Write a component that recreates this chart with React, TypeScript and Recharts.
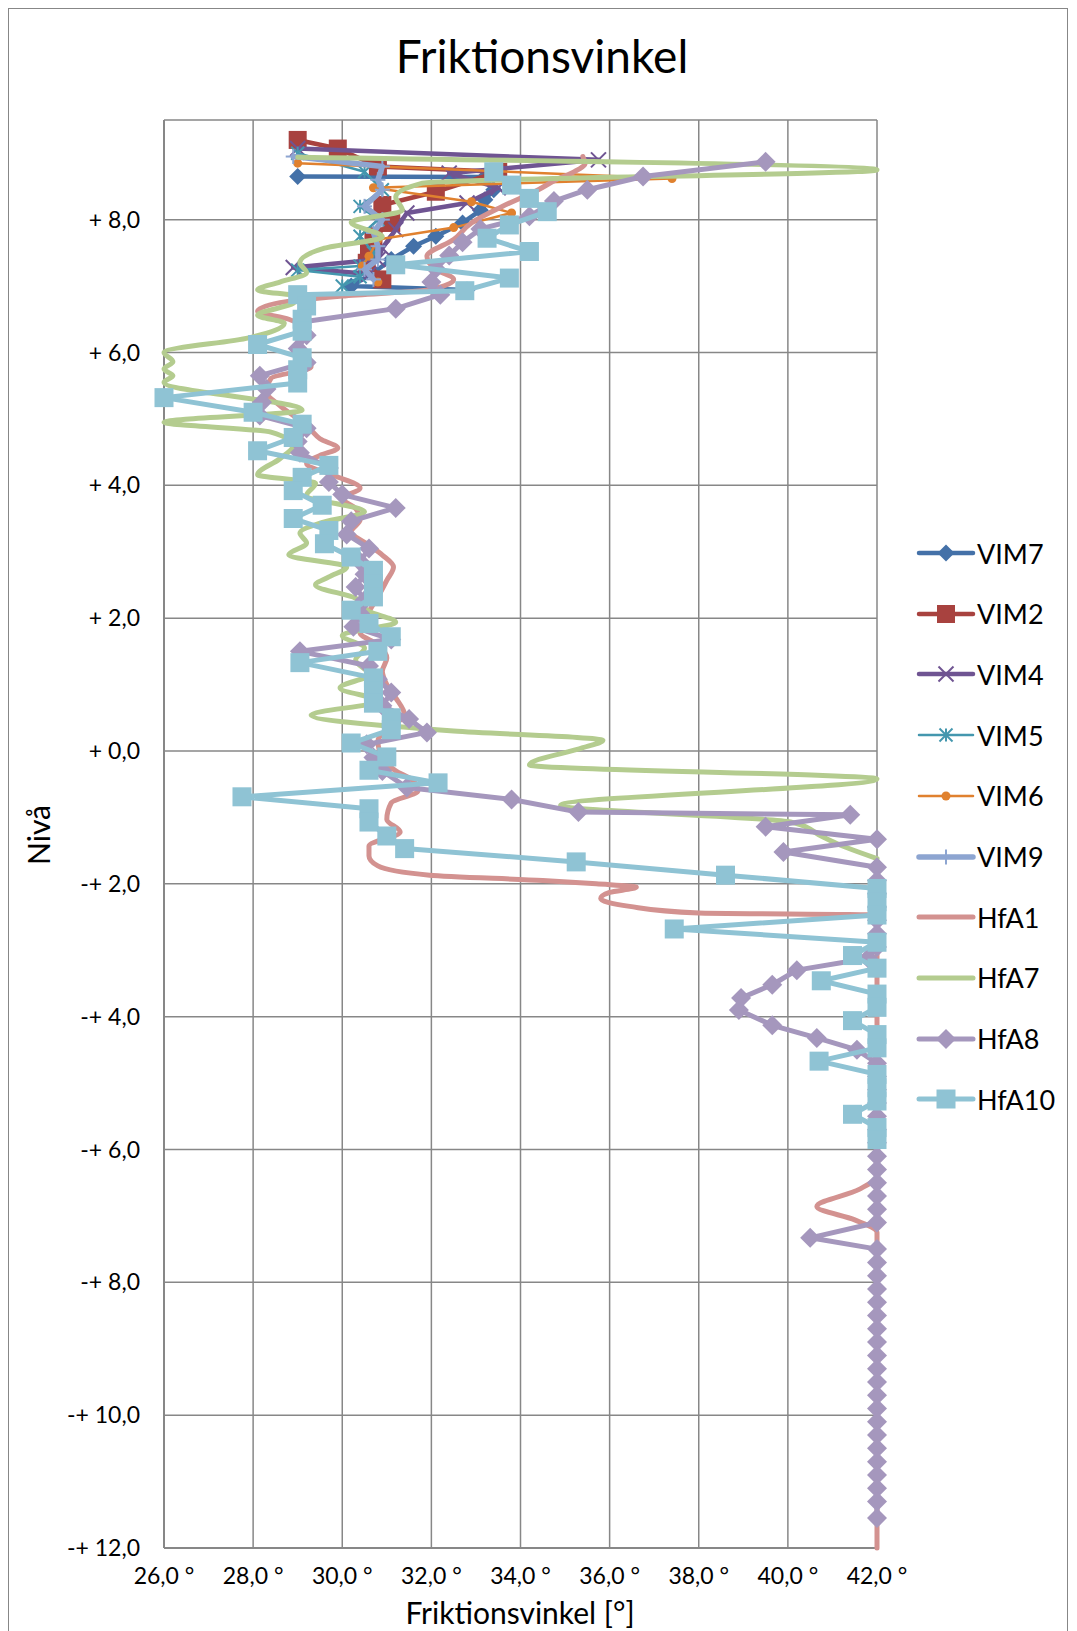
import React from "react";
import { ScatterChart, Scatter, XAxis, YAxis, CartesianGrid } from "recharts";

// [friktionsvinkel (°), nivå (m)]
const vim7 = [[29.0, 8.65], [33.2, 8.64], [33.4, 8.45], [33.2, 8.3], [33.1, 8.14], [32.7, 7.95], [32.1, 7.75], [31.6, 7.6], [31.1, 7.4], [30.7, 7.2], [30.2, 7.0], [32.8, 6.94]];
const vim2 = [[29.0, 9.2], [29.9, 9.07], [30.8, 8.8], [33.5, 8.72], [32.1, 8.42], [30.9, 8.22], [31.1, 7.95], [30.7, 7.75], [30.6, 7.5], [30.55, 7.35], [30.9, 7.1]];
const vim4 = [[29.0, 9.07], [35.75, 8.9], [32.4, 8.7], [33.5, 8.48], [32.8, 8.25], [31.45, 8.1], [31.2, 7.85], [30.9, 7.57], [30.8, 7.4], [28.9, 7.28], [30.6, 7.18]];
const vim5 = [[29.0, 9.0], [30.5, 8.72], [30.9, 8.45], [30.4, 8.2], [30.8, 8.0], [30.4, 7.75], [30.7, 7.5], [30.4, 7.3], [29.0, 7.24], [30.4, 7.14], [30.0, 7.0]];
const vim6 = [[29.0, 8.85], [37.4, 8.62], [30.7, 8.48], [32.9, 8.27], [33.8, 8.1], [32.5, 7.88], [30.8, 7.7], [30.6, 7.45], [30.45, 7.3], [30.8, 7.06]];
const vim9 = [[28.9, 8.95], [30.9, 8.8], [30.8, 8.6], [30.9, 8.45], [30.5, 8.2], [30.9, 8.0], [30.7, 7.8], [30.8, 7.6], [30.8, 7.4], [30.5, 7.25], [30.7, 7.1]];
const hfa1 = [
  [35.4, 8.95], [35.45, 8.85], [35.2, 8.72], [34.8, 8.6], [34.4, 8.45], [33.6, 8.2], [32.9, 7.95], [32.5, 7.7], [31.9, 7.45], [32.1, 7.25],
  [32.5, 7.1], [32.0, 6.95], [30.0, 6.85], [28.6, 6.75], [28.1, 6.62], [28.8, 6.5], [29.1, 6.38], [29.0, 6.2], [29.2, 6.0], [29.3, 5.78],
  [28.4, 5.61], [28.3, 5.4], [28.6, 5.2], [29.0, 5.0], [29.3, 4.83], [29.5, 4.7], [29.9, 4.56], [29.5, 4.45], [29.2, 4.33], [29.8, 4.15],
  [30.4, 3.96], [30.0, 3.8], [30.3, 3.65], [30.4, 3.48], [30.2, 3.3], [30.6, 3.1], [30.9, 2.95], [31.15, 2.77], [31.0, 2.57], [30.8, 2.32],
  [30.6, 2.1], [30.5, 1.95], [30.4, 1.78], [30.8, 1.6], [31.0, 1.4], [30.9, 1.2], [31.0, 1.0], [31.2, 0.8], [31.4, 0.54], [31.1, 0.37],
  [30.8, 0.15], [30.9, -0.1], [31.2, -0.3], [31.6, -0.45], [31.7, -0.6], [31.1, -0.78], [31.0, -1.03], [31.3, -1.22], [30.6, -1.43], [30.6, -1.58],
  [30.8, -1.73], [31.96, -1.87], [34.5, -1.95], [35.7, -2.0], [36.6, -2.05], [36.0, -2.13], [35.8, -2.22], [36.45, -2.34], [38.0, -2.44], [42.0, -2.47],
  [42.0, -3.0], [42.0, -4.0], [42.0, -5.0], [42.0, -6.0], [42.0, -6.4], [41.6, -6.6], [40.65, -6.86], [41.5, -7.06], [42.0, -7.25], [42.0, -8.0],
  [42.0, -9.0], [42.0, -10.0], [42.0, -11.0], [42.0, -12.0],
];
const hfa7 = [
  [29.0, 8.94], [42.0, 8.75], [31.8, 8.55], [31.2, 8.34], [31.35, 8.14], [30.2, 7.96], [30.9, 7.74], [29.6, 7.57], [29.05, 7.35], [29.2, 7.2],
  [28.6, 7.06], [28.1, 6.94], [29.0, 6.84], [28.9, 6.74], [28.1, 6.56], [28.7, 6.44], [27.9, 6.22], [26.0, 6.0], [26.2, 5.86], [26.0, 5.75],
  [26.2, 5.65], [26.0, 5.55], [29.1, 5.13], [26.0, 4.95], [28.4, 4.8], [28.9, 4.6], [28.6, 4.4], [28.1, 4.16], [29.4, 4.03], [29.2, 3.85],
  [30.5, 3.6], [29.6, 3.45], [29.05, 3.28], [29.2, 3.13], [28.8, 2.95], [30.1, 2.77], [29.7, 2.62], [29.4, 2.5], [30.3, 2.3], [30.6, 2.1],
  [31.2, 1.94], [30.0, 1.74], [30.5, 1.55], [30.3, 1.37], [30.6, 1.15], [29.95, 0.95], [30.8, 0.75], [29.3, 0.54], [32.5, 0.3], [35.85, 0.16],
  [35.4, 0.05], [34.2, -0.21], [42.0, -0.42], [34.9, -0.82], [40.06, -1.07], [40.8, -1.3], [41.3, -1.45], [42.0, -1.62],
];
const hfa8 = [
  [39.5, 8.87], [36.75, 8.65], [35.5, 8.45], [34.75, 8.28], [34.2, 8.05], [33.1, 7.86], [32.7, 7.66], [32.4, 7.46], [32.1, 7.26], [32.0, 7.06],
  [32.2, 6.87], [31.2, 6.66], [29.1, 6.46], [29.2, 6.26], [29.0, 6.06], [29.2, 5.85], [28.15, 5.65], [28.3, 5.45], [28.2, 5.25], [28.15, 5.05],
  [29.2, 4.86], [29.0, 4.66], [29.05, 4.49], [29.7, 4.26], [29.7, 4.05], [30.0, 3.86], [31.2, 3.66], [30.2, 3.46], [30.1, 3.26], [30.6, 3.05],
  [30.4, 2.85], [30.5, 2.66], [30.3, 2.47], [30.5, 2.27], [30.4, 2.07], [30.25, 1.87], [31.1, 1.68], [29.05, 1.5], [30.6, 1.28], [30.8, 1.08],
  [31.1, 0.88], [30.9, 0.68], [31.5, 0.48], [31.9, 0.28], [30.55, 0.1], [30.7, -0.1], [30.9, -0.3], [31.45, -0.55], [33.8, -0.73], [35.3, -0.92],
  [41.4, -0.96], [39.5, -1.14], [42.0, -1.33], [39.9, -1.52], [42.0, -1.75], [42.0, -1.95], [42.0, -2.15], [42.0, -2.35], [42.0, -2.55], [42.0, -2.75],
  [42.0, -2.95], [41.8, -3.12], [40.2, -3.3], [39.65, -3.52], [38.95, -3.72], [38.9, -3.9], [39.65, -4.13], [40.65, -4.32], [41.55, -4.5], [42.0, -4.7],
  [42.0, -4.9], [42.0, -5.1], [42.0, -5.3], [42.0, -5.5], [42.0, -5.7], [42.0, -5.9], [42.0, -6.1], [42.0, -6.3], [42.0, -6.5], [42.0, -6.7],
  [42.0, -6.9], [42.0, -7.1], [40.5, -7.33], [42.0, -7.5], [42.0, -7.7], [42.0, -7.9], [42.0, -8.1], [42.0, -8.3], [42.0, -8.5], [42.0, -8.7],
  [42.0, -8.9], [42.0, -9.1], [42.0, -9.3], [42.0, -9.5], [42.0, -9.7], [42.0, -9.9], [42.0, -10.1], [42.0, -10.3], [42.0, -10.5], [42.0, -10.7],
  [42.0, -10.9], [42.0, -11.1], [42.0, -11.3], [42.0, -11.55],
];
const hfa10 = [
  [33.4, 8.72], [33.8, 8.52], [34.2, 8.32], [34.6, 8.12], [33.75, 7.92], [33.25, 7.72], [34.2, 7.52], [31.2, 7.32], [33.75, 7.12], [32.75, 6.93],
  [29.0, 6.87], [29.2, 6.7], [29.1, 6.5], [29.1, 6.32], [28.1, 6.12], [29.1, 5.92], [29.0, 5.74], [29.0, 5.54], [26.0, 5.32], [28.0, 5.1],
  [29.1, 4.92], [28.9, 4.72], [28.1, 4.52], [29.7, 4.3], [29.1, 4.12], [28.9, 3.92], [29.55, 3.7], [28.9, 3.5], [29.7, 3.32], [29.6, 3.12],
  [30.2, 2.92], [30.7, 2.72], [30.7, 2.52], [30.7, 2.32], [30.2, 2.12], [30.6, 1.92], [31.1, 1.72], [30.8, 1.5], [29.05, 1.33], [30.7, 1.1],
  [30.7, 0.9], [30.7, 0.72], [31.1, 0.5], [31.1, 0.32], [30.2, 0.12], [31.0, -0.09], [30.6, -0.29], [32.15, -0.48], [27.75, -0.69], [30.6, -0.87],
  [30.6, -1.07], [31.0, -1.28], [31.4, -1.47], [35.25, -1.67], [38.6, -1.87], [42.0, -2.07], [42.0, -2.27], [42.0, -2.47], [37.45, -2.68], [42.0, -2.88],
  [41.45, -3.08], [42.0, -3.27], [40.75, -3.46], [42.0, -3.66], [42.0, -3.86], [41.45, -4.06], [42.0, -4.27], [42.0, -4.47], [40.7, -4.67], [42.0, -4.87],
  [42.0, -5.07], [42.0, -5.27], [41.45, -5.47], [42.0, -5.67], [42.0, -5.85],
];

const xTicks = [26, 28, 30, 32, 34, 36, 38, 40, 42];
const yTicks = [8, 6, 4, 2, 0, -2, -4, -6, -8, -10, -12];

const FONT = "Lato, 'Open Sans', sans-serif";
const GRID = "#878787";

type Kind = "diamond" | "square" | "x" | "star" | "circle" | "plus" | "none";

const series = [
  { name: "VIM7", data: vim7, color: "#4471A8", width: 4.5, kind: "diamond" as Kind, size: 17, smooth: false },
  { name: "VIM2", data: vim2, color: "#A8423F", width: 4.5, kind: "square" as Kind, size: 18, smooth: false },
  { name: "VIM4", data: vim4, color: "#6F5492", width: 4.5, kind: "x" as Kind, size: 15, smooth: false },
  { name: "VIM5", data: vim5, color: "#4497AE", width: 2.5, kind: "star" as Kind, size: 13, smooth: false },
  { name: "VIM6", data: vim6, color: "#E0812F", width: 2.5, kind: "circle" as Kind, size: 9, smooth: false },
  { name: "VIM9", data: vim9, color: "#8DA5D1", width: 5.5, kind: "plus" as Kind, size: 15, smooth: false },
  { name: "HfA1", data: hfa1, color: "#D39290", width: 5, kind: "none" as Kind, size: 0, smooth: true },
  { name: "HfA7", data: hfa7, color: "#B4CC8F", width: 5, kind: "none" as Kind, size: 0, smooth: true },
  { name: "HfA8", data: hfa8, color: "#A597BD", width: 5, kind: "diamond" as Kind, size: 20, smooth: false },
  { name: "HfA10", data: hfa10, color: "#8FC3D4", width: 5, kind: "square" as Kind, size: 19, smooth: false },
];

const toPoints = (arr: number[][]) => arr.map(([x, y]) => ({ x, y }));

const fmt = (v: number) => Math.abs(v).toFixed(1).replace(".", ",");
const yFmt = (v: number) => (v < 0 ? `-+ ${fmt(v)}` : `+ ${fmt(v)}`);
const xFmt = (v: number) => `${fmt(v)} °`;

function drawMarker(kind: Kind, color: string, size: number, cx: number, cy: number) {
  const s = size / 2;
  switch (kind) {
    case "diamond":
      return <polygon points={`${cx},${cy - s} ${cx + s},${cy} ${cx},${cy + s} ${cx - s},${cy}`} fill={color} />;
    case "square":
      return <rect x={cx - s} y={cy - s} width={size} height={size} fill={color} />;
    case "circle":
      return <circle cx={cx} cy={cy} r={s} fill={color} />;
    case "x":
      return (
        <g stroke={color} strokeWidth={2}>
          <line x1={cx - s} y1={cy - s} x2={cx + s} y2={cy + s} />
          <line x1={cx - s} y1={cy + s} x2={cx + s} y2={cy - s} />
        </g>
      );
    case "star":
      return (
        <g stroke={color} strokeWidth={2}>
          <line x1={cx - s} y1={cy - s} x2={cx + s} y2={cy + s} />
          <line x1={cx - s} y1={cy + s} x2={cx + s} y2={cy - s} />
          <line x1={cx} y1={cy - s} x2={cx} y2={cy + s} />
        </g>
      );
    case "plus":
      return (
        <g stroke={color} strokeWidth={2}>
          <line x1={cx - s} y1={cy} x2={cx + s} y2={cy} />
          <line x1={cx} y1={cy - s} x2={cx} y2={cy + s} />
        </g>
      );
    default:
      return <g />;
  }
}

const makeShape = (kind: Kind, color: string, size: number) => (props: any) => {
  if (props.cx == null || props.cy == null) return <g />;
  return drawMarker(kind, color, size, props.cx, props.cy);
};

export default function App() {
  return (
    <div style={{ position: "relative", width: 1061, height: 1623, fontFamily: FONT, background: "#fff" }}>
      <div
        style={{
          position: "absolute",
          left: 0,
          top: 0,
          width: 1060,
          height: 1640,
          border: `1.5px solid ${GRID}`,
          boxSizing: "border-box",
        }}
      />
      <div
        style={{
          position: "absolute",
          left: 0,
          width: 1068,
          top: 20,
          textAlign: "center",
          fontSize: 46,
          lineHeight: "56px",
          color: "#000",
        }}
      >
        Friktionsvinkel
      </div>
      <ScatterChart width={1061} height={1623} margin={{ top: 112, right: 192, bottom: 33, left: 56 }}>
        <CartesianGrid stroke={GRID} strokeWidth={1.5} />
        <XAxis
          type="number"
          dataKey="x"
          domain={[26, 42]}
          ticks={xTicks}
          interval={0}
          tickFormatter={xFmt}
          tickLine={false}
          axisLine={{ stroke: GRID, strokeWidth: 2 }}
          tick={{ fill: "#000", fontSize: 23, fontFamily: FONT }}
          tickMargin={14}
          height={50}
        />
        <YAxis
          type="number"
          dataKey="y"
          domain={[-12, 9.5]}
          ticks={yTicks}
          interval={0}
          tickFormatter={yFmt}
          tickLine={false}
          axisLine={{ stroke: GRID, strokeWidth: 2 }}
          tick={{ fill: "#000", fontSize: 23, fontFamily: FONT }}
          tickMargin={18}
          width={100}
        />
        {series.map((s) => (
          <Scatter
            key={s.name}
            name={s.name}
            data={toPoints(s.data)}
            fill={s.color}
            line={{ stroke: s.color, strokeWidth: s.width, strokeLinejoin: "round", strokeLinecap: "round" }}
            lineType="joint"
            lineJointType={s.smooth ? "monotoneY" : "linear"}
            shape={makeShape(s.kind, s.color, s.size)}
            isAnimationActive={false}
          />
        ))}
      </ScatterChart>
      <div
        style={{
          position: "absolute",
          left: 30,
          top: 827,
          transform: "translate(-50%, -50%) rotate(-90deg)",
          fontSize: 30,
          whiteSpace: "nowrap",
          color: "#000",
        }}
      >
        Nivå
      </div>
      <div
        style={{
          position: "absolute",
          left: 512,
          top: 1604,
          transform: "translate(-50%, -50%)",
          fontSize: 30,
          whiteSpace: "nowrap",
          color: "#000",
        }}
      >
        Friktionsvinkel [°]
      </div>
      {series.map((s, i) => (
        <div
          key={s.name}
          style={{
            position: "absolute",
            left: 908,
            top: 545 + i * 60.7 - 18,
            height: 36,
            display: "flex",
            alignItems: "center",
            fontSize: 27,
            color: "#000",
            whiteSpace: "nowrap",
          }}
        >
          <svg width={60} height={36} style={{ display: "block" }}>
            <line x1={3} y1={18} x2={57} y2={18} stroke={s.color} strokeWidth={s.width} strokeLinecap="round" />
            {drawMarker(s.kind, s.color, s.size, 30, 18)}
          </svg>
          <span style={{ marginLeft: 1 }}>{s.name}</span>
        </div>
      ))}
    </div>
  );
}
